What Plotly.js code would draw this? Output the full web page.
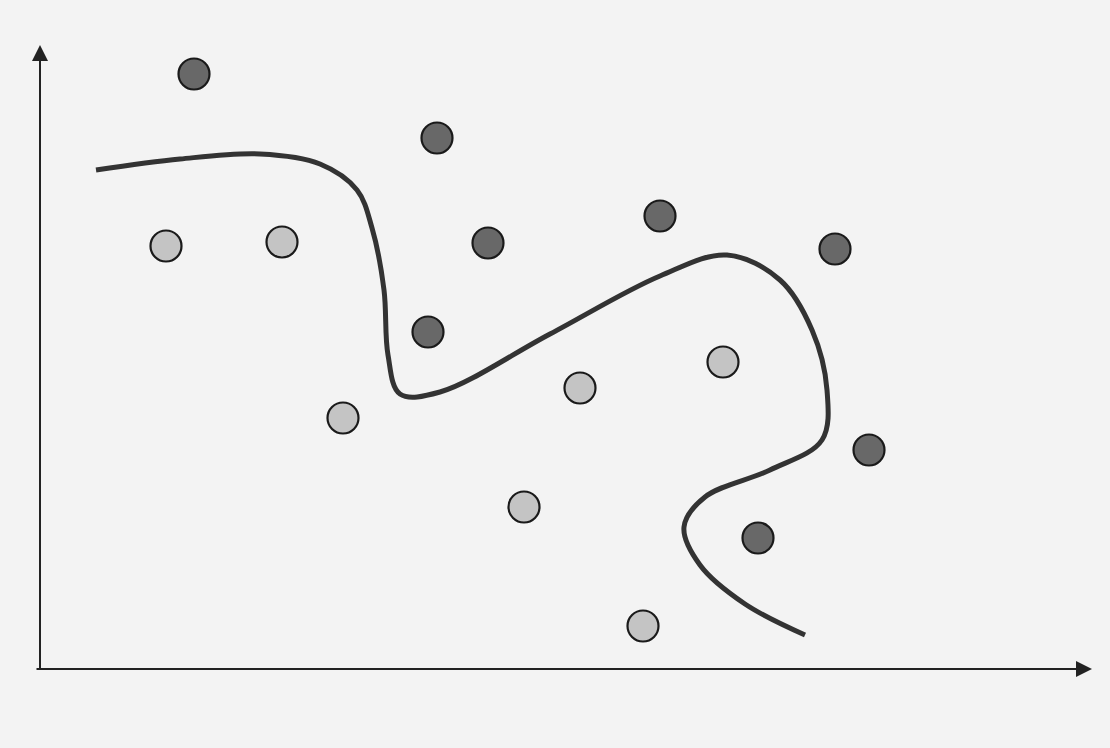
<!DOCTYPE html>
<html>
<head>
<meta charset="utf-8">
<script src="https://cdn.plot.ly/plotly-3.0.1.min.js"></script>
<style>html,body{margin:0;padding:0;background:#f3f3f3;}#chart{width:1110px;height:748px;}</style>
</head>
<body>
<div id="chart"></div>
<script>
// Class A (dark points)
const darkX = [194, 437, 660, 488, 835, 428, 869, 758];
const darkY = [74, 138, 216, 243, 249, 332, 450, 538];
// Class B (light points)
const lightX = [166, 282, 343, 580, 723, 524, 643];
const lightY = [246, 242, 418, 388, 362, 507, 626];
// Decision boundary
const boundaryX = [96, 180, 260, 320, 357, 372, 384, 388, 400, 440, 550, 660, 727, 780, 812, 827, 822, 770, 705, 684, 700, 745, 805];
const boundaryY = [170, 159, 154, 164, 190, 228, 290, 355, 394, 392, 334, 276, 255, 280, 330, 390, 440, 470, 497, 527, 565, 604, 635];

const traces = [
  {x: boundaryX, y: boundaryY, mode: 'lines', type: 'scatter',
   line: {color: '#333333', width: 5, shape: 'spline', smoothing: 1}, hoverinfo: 'skip'},
  {x: darkX, y: darkY, mode: 'markers', type: 'scatter',
   marker: {size: 31, color: '#686868', line: {color: '#1a1a1a', width: 2.2}}},
  {x: lightX, y: lightY, mode: 'markers', type: 'scatter',
   marker: {size: 31, color: '#c4c4c4', line: {color: '#1a1a1a', width: 2.2}}}
];

const layout = {
  width: 1110, height: 748,
  margin: {l: 0, r: 0, t: 0, b: 0},
  paper_bgcolor: '#f3f3f3', plot_bgcolor: '#f3f3f3',
  showlegend: false,
  xaxis: {range: [0, 1110], visible: false, fixedrange: true},
  yaxis: {range: [748, 0], visible: false, fixedrange: true},
  annotations: [
    {x: 40, y: 45, ax: 40, ay: 670, xref: 'x', yref: 'y', axref: 'x', ayref: 'y',
     showarrow: true, arrowhead: 2, arrowsize: 1.6, arrowwidth: 2, arrowcolor: '#222', text: ''},
    {x: 1092, y: 669, ax: 35, ay: 669, xref: 'x', yref: 'y', axref: 'x', ayref: 'y',
     showarrow: true, arrowhead: 2, arrowsize: 1.6, arrowwidth: 2, arrowcolor: '#222', text: ''}
  ]
};

Plotly.newPlot('chart', traces, layout, {displayModeBar: false, staticPlot: true});
</script>
</body>
</html>
